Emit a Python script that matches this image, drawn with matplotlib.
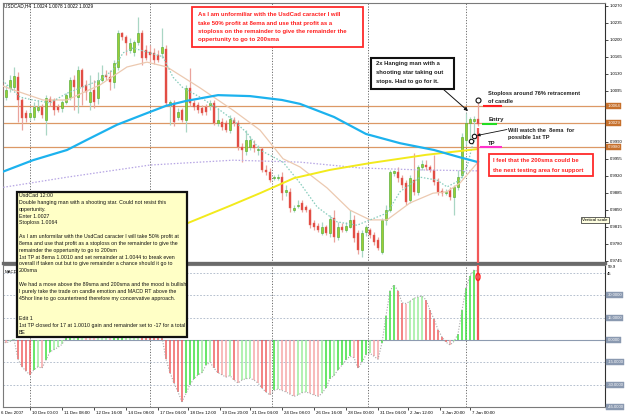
import matplotlib
matplotlib.use("Agg")
import matplotlib.pyplot as plt
from matplotlib.patches import Rectangle, Ellipse
from matplotlib.transforms import blended_transform_factory

plt.rcParams['font.family'] = ['Liberation Sans', 'DejaVu Sans']

# ---------------- data (USDCAD H4, 6 Dec 2007 .. 7 Jan 2008 12:00) ----------------
symbol_line = "USDCAD,H4  1.0024 1.0078 1.0022 1.0029"

opens = [1.0111, 1.0082, 1.0101, 1.0103, 1.0123, 1.0076, 1.0049, 1.0041, 1.0041, 1.0055,
         1.0062, 1.0035, 1.0078, 1.0076, 1.0062, 1.0060, 1.0072, 1.0082, 1.0117, 1.0082,
         1.0138, 1.0107, 1.0072, 1.0097, 1.0080, 1.0117, 1.0127, 1.0123, 1.0113, 1.0144,
         1.0214, 1.0206, 1.0179, 1.0175, 1.0195, 1.0214, 1.0179, 1.0175, 1.0173, 1.0169,
         1.0173, 1.0181, 1.0066, 1.0070, 1.0041, 1.0055, 1.0035, 1.0101, 1.0070, 1.0066,
         1.0060, 1.0062, 1.0066, 1.0070, 1.0029, 1.0031, 1.0029, 1.0014, 1.0035, 1.0029,
         0.9979, 0.9971, 0.9979, 0.9983, 0.9973, 0.9975, 0.9932, 0.9928, 0.9915, 0.9915,
         0.9917, 0.9887, 0.9887, 0.9849, 0.9858, 0.9864, 0.9856, 0.9849, 0.9823, 0.9816,
         0.9802, 0.9814, 0.9802, 0.9833, 0.9794, 0.9814, 0.9808, 0.9814, 0.9829, 0.9802,
         0.9767, 0.9804, 0.9808, 0.9798, 0.9788, 0.9763, 0.9829, 0.9849, 0.9926, 0.9928,
         0.9915, 0.9905, 0.9870, 0.9911, 0.9887, 0.9938, 0.9942, 0.9938, 0.9932, 0.9907,
         0.9889, 0.9884, 0.9891, 0.9876, 0.9897, 0.9922, 0.9994, 1.0029, 1.0033, 1.0037]
highs = [1.0117, 1.0107, 1.0127, 1.0144, 1.0134, 1.0080, 1.0055, 1.0060, 1.0072, 1.0076,
         1.0068, 1.0086, 1.0084, 1.0080, 1.0068, 1.0076, 1.0090, 1.0123, 1.0127, 1.0146,
         1.0142, 1.0117, 1.0127, 1.0117, 1.0134, 1.0148, 1.0138, 1.0138, 1.0158, 1.0220,
         1.0216, 1.0210, 1.0204, 1.0200, 1.0247, 1.0220, 1.0189, 1.0189, 1.0183, 1.0179,
         1.0224, 1.0189, 1.0076, 1.0076, 1.0060, 1.0060, 1.0107, 1.0142, 1.0076, 1.0072,
         1.0066, 1.0068, 1.0076, 1.0076, 1.0060, 1.0039, 1.0035, 1.0045, 1.0041, 1.0035,
         0.9987, 1.0014, 1.0002, 0.9994, 0.9983, 0.9979, 0.9942, 0.9936, 0.9922, 0.9924,
         0.9928, 0.9901, 0.9895, 0.9860, 0.9870, 0.9870, 0.9860, 0.9854, 0.9829, 0.9823,
         0.9825, 0.9818, 0.9839, 0.9849, 0.9825, 0.9823, 0.9825, 0.9849, 0.9839, 0.9808,
         0.9808, 0.9818, 0.9812, 0.9804, 0.9794, 0.9833, 0.9860, 0.9932, 0.9932, 0.9938,
         0.9922, 0.9911, 0.9922, 0.9967, 0.9942, 0.9952, 0.9952, 0.9942, 0.9963, 0.9915,
         0.9895, 0.9893, 0.9897, 0.9901, 0.9932, 1.0008, 1.0049, 1.0041, 1.0043, 1.0076]
lows = [1.0076, 1.0076, 1.0092, 1.0097, 1.0031, 1.0014, 1.0031, 1.0035, 1.0035, 1.0051,
        1.0039, 1.0004, 1.0064, 1.0045, 1.0051, 1.0051, 1.0068, 1.0076, 1.0055, 1.0049,
        1.0066, 1.0076, 1.0055, 1.0060, 1.0068, 1.0113, 1.0117, 1.0097, 1.0101, 1.0138,
        1.0200, 1.0169, 1.0173, 1.0167, 1.0189, 1.0148, 1.0158, 1.0154, 1.0150, 1.0154,
        1.0163, 1.0064, 1.0025, 1.0022, 1.0035, 1.0031, 1.0010, 1.0064, 1.0055, 1.0049,
        1.0045, 1.0045, 1.0055, 1.0025, 1.0022, 1.0014, 1.0010, 1.0008, 1.0022, 0.9973,
        0.9948, 0.9963, 0.9973, 0.9969, 0.9963, 0.9928, 0.9922, 0.9907, 0.9911, 0.9911,
        0.9870, 0.9878, 0.9845, 0.9845, 0.9854, 0.9845, 0.9845, 0.9812, 0.9808, 0.9804,
        0.9798, 0.9798, 0.9794, 0.9784, 0.9788, 0.9804, 0.9804, 0.9812, 0.9784, 0.9759,
        0.9753, 0.9796, 0.9792, 0.9777, 0.9767, 0.9759, 0.9818, 0.9845, 0.9920, 0.9907,
        0.9895, 0.9860, 0.9864, 0.9880, 0.9880, 0.9932, 0.9932, 0.9928, 0.9901, 0.9880,
        0.9878, 0.9880, 0.9870, 0.9839, 0.9891, 0.9915, 0.9983, 0.9994, 1.0004, 1.0022]
closes = [1.0082, 1.0097, 1.0117, 1.0125, 1.0076, 1.0039, 1.0039, 1.0049, 1.0062, 1.0062,
          1.0045, 1.0080, 1.0072, 1.0055, 1.0055, 1.0072, 1.0086, 1.0117, 1.0103, 1.0138,
          1.0103, 1.0092, 1.0092, 1.0072, 1.0117, 1.0127, 1.0123, 1.0113, 1.0152, 1.0214,
          1.0206, 1.0193, 1.0193, 1.0195, 1.0214, 1.0163, 1.0163, 1.0169, 1.0158, 1.0158,
          1.0185, 1.0070, 1.0072, 1.0031, 1.0051, 1.0035, 1.0101, 1.0070, 1.0062, 1.0055,
          1.0049, 1.0051, 1.0070, 1.0029, 1.0035, 1.0020, 1.0014, 1.0037, 1.0029, 0.9979,
          0.9973, 0.9994, 0.9994, 0.9977, 0.9975, 0.9932, 0.9928, 0.9911, 0.9917, 0.9917,
          0.9884, 0.9891, 0.9854, 0.9854, 0.9860, 0.9849, 0.9849, 0.9818, 0.9814, 0.9808,
          0.9814, 0.9802, 0.9831, 0.9794, 0.9814, 0.9808, 0.9816, 0.9829, 0.9792, 0.9767,
          0.9802, 0.9814, 0.9798, 0.9784, 0.9771, 0.9829, 0.9849, 0.9928, 0.9930, 0.9915,
          0.9901, 0.9866, 0.9915, 0.9887, 0.9938, 0.9944, 0.9938, 0.9932, 0.9907, 0.9887,
          0.9884, 0.9887, 0.9876, 0.9897, 0.9917, 1.0000, 1.0029, 1.0037, 1.0037, 1.0027]

macd = [-1.0, -2.0, -1.0, 0.5, -13, -18, -21, -23.5, -20, -18,
        -19, -13.5, -8, -6.5, -5, -3, 2, 6, 8, 12,
        13, 12, 11, 10, 12, 14, 14, 13, 16, 24,
        28, 29, 29, 29, 31, 22, 18, 14, 9, 5,
        2, -13, -22, -29, -35, -41.5, -36, -30, -26, -23.5,
        -22, -17, -15, -19, -22, -23.5, -25, -24, -27, -29,
        -27, -26, -25.8, -27, -29, -32.5, -35, -37, -34, -33,
        -34, -35, -36.5, -38, -37, -35.5, -35, -36, -37, -38,
        -36, -32, -26, -24, -20, -17, -13.5, -11, -12, -19,
        -15, -10, -9, -11, -13, -2, 16, 33, 37, 33,
        25, 24.5, 26, 28, 29, 29.5, 27, 20, 14, 7,
        2, -1.5, -3.4, -1, 4, 20, 35, 43, 47, 46]

# moving averages (bar index, price)
sma89_bars = [-0.5, 7.75, 16.25, 21.25, 28.75, 36.25, 41, 46, 54, 62, 70, 74.5, 83, 91, 99.5, 108, 114, 119]
sma89 = [0.9926, 0.9952, 0.9973, 0.9994, 1.0025, 1.0049, 1.0064, 1.0074, 1.0086, 1.0084,
         1.0076, 1.0068, 1.0041, 1.0006, 0.9987, 0.9973, 0.9959, 0.9948]
sma200_bars = [24.5, 46, 57, 64.5, 73, 82, 92, 106, 119]
sma200 = [0.9746, 0.9821, 0.9858, 0.9884, 0.9915, 0.9932, 0.9946, 0.9963, 0.9975]
slow_bars = [-0.5, 16.25, 37, 57.75, 74.5, 89.5, 104.5, 119]
slow_ma = [0.9895, 0.9917, 0.9942, 0.9952, 0.9948, 0.9936, 0.9932, 0.9930]
mid_bars = [-0.5, 2.75, 10.25, 16.25, 24.5, 31.25, 36.25, 41.25, 49.5, 57.75, 64.5,
            70.25, 74.5, 81.25, 87, 92, 96.25, 102, 107.75, 111.25, 114.5, 119]
mid_ma = [1.0107, 1.0097, 1.0076, 1.0076, 1.0107, 1.0144, 1.0154, 1.0144, 1.0101, 1.0055, 1.0014,
          0.9955, 0.9938, 0.9895, 0.9849, 0.9829, 0.9829, 0.9864, 0.9884, 0.9887, 0.9905, 0.9948]
ema8_bars = [-0.5, 4.5, 7.75, 12, 16.25, 20.25, 24.5, 27.75, 30.25, 32.75, 37, 40.25, 42.75,
             45.25, 49.5, 54.5, 57.75, 61.25, 64.5, 70.25, 74.5, 78.75, 83.75, 88.75, 92,
             96.25, 99.5, 104.5, 108.75, 111.25, 114.5, 116.25, 117.75, 119]
ema8 = [1.0121, 1.0082, 1.0076, 1.0070, 1.0090, 1.0103, 1.0117, 1.0138, 1.0173, 1.0183, 1.0173,
        1.0165, 1.0123, 1.0101, 1.0082, 1.0055, 1.0035, 1.0008, 0.9973, 0.9948, 0.9905, 0.9856,
        0.9825, 0.9818, 0.9829, 0.9843, 0.9887, 0.9917, 0.9911, 0.9897, 0.9911, 0.9938, 0.9987, 1.0004]

stop_level = 1.0064
entry_level = 1.0029
entry_price = 1.0027
tp_level = 0.9980
week_starts = [7, 37, 67.5, 91.5, 116]
price_ticks = [1.0270, 1.0235, 1.0200, 1.0165, 1.0130, 1.0095, 1.0060, 1.0025,
               0.9990, 0.9955, 0.9920, 0.9885, 0.9850, 0.9815, 0.9780, 0.9745]
macd_levels = [45, 30, 15, -15, -30, -45]
macd_labels = [30, 15, 0, -15, -30, -45]
date_ticks = [7, 15, 23, 31, 39, 46.5, 54.5, 62, 70, 78, 86, 94, 101.5, 109.5, 117]
date_labels = ["10 Dec 00:00", "11 Dec 08:00", "12 Dec 16:00", "14 Dec 08:00", "17 Dec 04:00",
               "18 Dec 12:00", "19 Dec 20:00", "21 Dec 04:00", "24 Dec 08:00", "26 Dec 16:00",
               "28 Dec 00:00", "31 Dec 04:00", "2 Jan 12:00", "3 Jan 20:00", "7 Jan 00:00"]

note_lines = [
    "UsdCad 12:00",
    "Double hanging man with a shooting star. Could not resist this",
    "oppertunity.",
    "Enter 1.0027",
    "Stoploss 1.0064",
    "",
    "As I am unformilar with the UsdCad caracter I will take 50% profit at",
    "8ema and use that profit as a stoploss on the remainder to give the",
    "remainder the oppertunity to go to 200sm",
    "1st TP at 8ema 1.0010 and set remainder at 1.0044 to break even",
    "overall if taken out but to give remainder a chance should it go to",
    "200sma",
    "",
    "We had a move above the 89sma and 200sma and the mood is bullish.",
    "I purely take the trade on candle emotion and MACD RT above the",
    "45hor line to go countertrend therefore my concervative approach.",
    "",
    "",
    "Edit 1",
    "1st TP closed for 17 at 1.0010 gain and remainder set to -17 for a total",
    "BE",
]
top_note = ["As I am unformiliar with the UsdCad caracter I will",
            "take 50% profit at 8ema and use that profit as a",
            "stoploss on the remainder to give the remainder the",
            "oppertunity to go to 200sma"]
pattern_note = ["2x Hanging man with a", "shooting star taking out", "stops. Had to go for it."]
support_note = ["I feel that the 200sma could be", "the next testing area for support"]

# ---------------- figure ----------------
W, H = 625, 420
fig = plt.figure(figsize=(W / 100, H / 100), dpi=100)
fig.patch.set_facecolor('white')


def fbox(x0, y0, x1, y1):
    return [x0 / W, 1 - y1 / H, (x1 - x0) / W, (y1 - y0) / H]


def ftext(x, y, s, **kw):
    return fig.text(x / W, 1 - y / H, s, **kw)


def put_lines(lines, x, y0, dy, **kw):
    for k, s in enumerate(lines):
        if s:
            ftext(x, y0 + k * dy, s, va='center', ha='left', **kw)


def frect(x0, y0, x1, y1, **kw):
    r = Rectangle((x0 / W, 1 - y1 / H), (x1 - x0) / W, (y1 - y0) / H,
                  transform=fig.transFigure, **kw)
    fig.add_artist(r)


ax = fig.add_axes(fbox(3, 3, 605, 263))
am = fig.add_axes(fbox(3, 265, 605, 407))
xlim = (0.25, 150.75)
ax.set_xlim(*xlim)
ax.set_ylim(0.97402, 1.02758)
am.set_xlim(*xlim)
am.set_ylim(-45.1, 50.4)

for a in (ax, am):
    for sp in a.spines.values():
        sp.set_color('#7a7a7a')
        sp.set_linewidth(0.8)
    a.spines['right'].set_color('#303030')
ax.spines['bottom'].set_linewidth(2.4)
ax.spines['bottom'].set_color('#6a6a6a')

# price axis ticks (the two levels under the orange boxes keep only their tick mark)
hidden_ticks = (1.0060, 1.0025)
ax.yaxis.tick_right()
ax.set_yticks(price_ticks)
ax.set_yticklabels(["" if v in hidden_ticks else f"{v:.4f}" for v in price_ticks])
ax.tick_params(axis='y', direction='out', length=2, width=0.5, pad=1.5, labelsize=3.1)
ax.set_xticks([])

# separators + horizontal levels
for a in (ax, am):
    for w in week_starts:
        a.axvline(w, color='#6c6c6c', ls=(0, (1.2, 1.6)), lw=0.7, zorder=1)
for lvl in (stop_level, entry_level, tp_level):
    ax.axhline(lvl, color='#dc9866', lw=0.9, zorder=1)

# candles
n = len(closes)
xs = list(range(n))
wick_cols = ['#a9d6c4' if c >= o else '#eaa39c' for o, c in zip(opens, closes)]
ax.vlines(xs, lows, highs, colors=wick_cols, lw=0.9, zorder=2)
for i in xs:
    o, c = opens[i], closes[i]
    bot = min(o, c)
    hgt = max(abs(c - o), 0.00008)
    if c >= o:
        ax.bar(i, hgt, bottom=bot, width=0.72, color='#9ccd34', edgecolor='#45a82c', lw=0.4, zorder=3)
    else:
        ax.bar(i, hgt, bottom=bot, width=0.72, color='#e2463d', edgecolor='#e56a62', lw=0.3, zorder=3)

# moving averages
ax.plot(slow_bars, slow_ma, color='#b7a6e4', ls=(0, (1.2, 1.4)), lw=0.9, zorder=4)
ax.plot(mid_bars, mid_ma, color='#ecc9b0', lw=0.9, zorder=4)
ax.plot(ema8_bars, ema8, color='#86ccbc', ls=(0, (1.2, 1.4)), lw=0.9, zorder=4)
ax.plot(sma200_bars, sma200, color='#f2ea1c', lw=1.4, zorder=4)
ax.plot(sma89_bars, sma89, color='#1cb2ee', lw=1.6, zorder=4)

# trade marks on the last bars
last = n - 1
ax.vlines(last, ax.get_ylim()[0], 1.0018, color='#f25858', lw=1.6, zorder=6)
ax.hlines(stop_level, last + 1.25, last + 6, color='#ff2222', lw=1.5, zorder=6)
ax.hlines(entry_price, last + 1.0, last + 4.75, color='#22dd22', lw=1.5, zorder=6)
ax.hlines(tp_level, last + 0.5, last + 6, color='#ff33cc', lw=1.5, zorder=6)
ax.plot([last], [highs[last]], marker='o', ms=3.6, mfc='white', mec='#111111', mew=0.8, zorder=7)
ax.plot([last - 0.9, last - 1.8], [1.0002, 0.9992], ls='none', marker='o', ms=3.2,
        mfc='white', mec='#111111', mew=0.8, zorder=7)

# orange price boxes
tr = blended_transform_factory(ax.transAxes, ax.transData)
for lvl in (stop_level, entry_level, tp_level):
    ax.text(1.004, lvl, f"{lvl:.4f}", transform=tr, fontsize=3.1, color='white', va='center',
            ha='left', clip_on=False, zorder=8,
            bbox=dict(boxstyle='square,pad=0.25', fc='#c6702c', ec='#c6702c', lw=0.3))

# ---------------- MACD panel ----------------
cols = []
for i, v in enumerate(macd):
    d = v - macd[i - 1] if i else 0
    if d >= 0:
        cols.append('#3ee03e' if d >= 2.5 else '#9cee9c')
    else:
        cols.append('#f06060' if d <= -2.5 else '#f6a8a8')
am.vlines(xs, 0, macd, colors=cols, lw=1.1, zorder=3)
am.plot(xs, macd, ls=(0, (1, 1.5)), color='#a8a8a8', lw=0.8, zorder=4)
am.axhline(0, color='#8d9bb0', lw=0.8, zorder=2)
for lvl in macd_levels:
    am.axhline(lvl, color='#a9b5c6', ls=(0, (2, 2)), lw=0.6, zorder=2)
am.vlines(last, 0, am.get_ylim()[1], color='#f25858', lw=1.6, zorder=6)
am.add_patch(Ellipse((last, 42.4), 1.0, 4.8, fill=False, ec='#ff2020', lw=1.0, zorder=7))

am.yaxis.tick_right()
am.set_yticks(macd_labels)
am.set_yticklabels([])
am.tick_params(axis='y', direction='out', length=2, width=0.5)
trm = blended_transform_factory(am.transAxes, am.transData)
for v in macd_labels:
    am.text(1.004, v, f"{v:.4f}", transform=trm, fontsize=3.0, color='white', va='center',
            ha='left', clip_on=False, zorder=8,
            bbox=dict(boxstyle='square,pad=0.25', fc='#8a99b0', ec='#8a99b0', lw=0.3))
am.text(1.004, 49.0, "59.9", transform=trm, fontsize=3.0, va='center', ha='left', clip_on=False)
am.text(1.004, 44.6, "45", transform=trm, fontsize=3.0, va='center', ha='left', clip_on=False)
am.text(0.002, 0.965, "MACD", transform=am.transAxes, fontsize=3.1, va='top', ha='left')

am.set_xticks(date_ticks)
am.set_xticklabels([])
am.tick_params(axis='x', direction='out', length=2, width=0.5)
trd = blended_transform_factory(am.transData, fig.transFigure)
for t, s in zip(date_ticks, date_labels):
    am.text(t + 0.4, 1 - 413 / H, s, transform=trd, fontsize=3.2, va='center', ha='left',
            clip_on=False)
ftext(1, 413, "6 Dec 2007", fontsize=3.2, va='center', ha='left')

# ---------------- annotations ----------------
ftext(4, 5.5, symbol_line, fontsize=3.3, va='center', ha='left')

frect(192, 7, 363, 47, fc='white', ec='#ff2a2a', lw=1.3, zorder=10)
put_lines(top_note, 198, 15, 8.1, fontsize=4.3, fontweight='bold', color='#ff2020', zorder=11)

frect(371, 58, 454, 89, fc='white', ec='#111111', lw=1.5, zorder=10)
put_lines(pattern_note, 376, 63.5, 9.1, fontsize=4.2, fontweight='bold', color='#222222', zorder=11)
ax.annotate('', xy=(468 / W, 1 - 111 / H), xycoords='figure fraction',
            xytext=(443 / W, 1 - 89 / H), textcoords='figure fraction',
            arrowprops=dict(arrowstyle='-|>', color='#111111', lw=0.7, mutation_scale=5,
                            shrinkA=0, shrinkB=0), zorder=9)

put_lines(["Stoploss around 76% retracement", "of candle"], 488, 94, 7.5,
          fontsize=4.1, fontweight='bold', color='#222222', zorder=11)
ftext(489, 119.5, "Entry", fontsize=4.3, fontweight='bold', color='#222222', va='center', zorder=11)
put_lines(["Will watch the  8ema  for", "possible 1st TP"], 508, 130, 7.5,
          fontsize=4.1, fontweight='bold', color='#222222', zorder=11)
ax.annotate('', xy=(477 / W, 1 - 135.5 / H), xycoords='figure fraction',
            xytext=(507 / W, 1 - 129.5 / H), textcoords='figure fraction',
            arrowprops=dict(arrowstyle='-|>', color='#111111', lw=0.6, mutation_scale=4,
                            shrinkA=0, shrinkB=0), zorder=9)
ftext(488, 143.5, "TP", fontsize=4.3, fontweight='bold', color='#222222', va='center', zorder=11)

frect(489, 154, 593, 176, fc='white', ec='#ff2a2a', lw=1.3, zorder=10)
put_lines(support_note, 493, 160.5, 10, fontsize=4.2, fontweight='bold', color='#ff2020', zorder=11)

frect(17, 192, 187, 337, fc='#ffffc6', ec='#111111', lw=1.6, zorder=10)
put_lines(note_lines, 19, 195.5, 6.85, fontsize=3.75, color='#111111', zorder=11)

ftext(582, 220, "Vertical scale", fontsize=3.2, va='center', ha='left', zorder=11,
      bbox=dict(boxstyle='square,pad=0.25', fc='#ffffe1', ec='#222222', lw=0.5))

fig.savefig("out.png", dpi=100)
